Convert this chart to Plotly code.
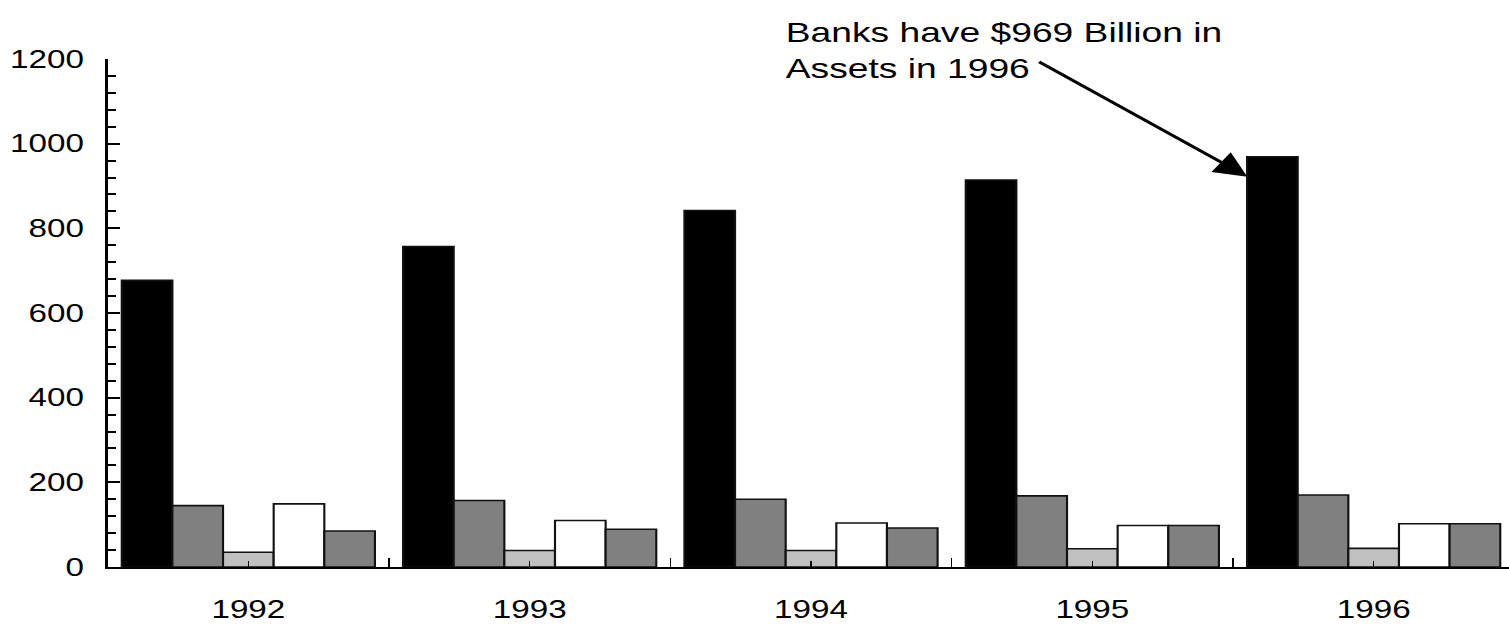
import plotly.graph_objects as go

# Total assets by year, $ billions
years = [1992, 1993, 1994, 1995, 1996]
banks = [677, 757, 842, 914, 969]
series_b = [145, 157, 160, 168, 170]
series_c = [35, 39, 39, 43, 44]
series_d = [149, 110, 104, 98, 102]
series_e = [85, 89, 92, 98, 102]

series_names = ["Banks", "Group B", "Group C", "Group D", "Group E"]
series_values = [banks, series_b, series_c, series_d, series_e]
series_colors = ["#000000", "#808080", "#c0c0c0", "#ffffff", "#808080"]

y_tick_values = [0, 200, 400, 600, 800, 1000, 1200]

note_text = "Banks have $969 Billion in<br>Assets in 1996"
note_year = 1996
note_value = 969

# The page is laid out narrower and stretched horizontally afterwards.
STRETCH = 1.3295
W, H = 1135, 625
FONT = "Liberation Sans, Arial, Helvetica, sans-serif"

fig = go.Figure()
for name, vals, col in zip(series_names, series_values, series_colors):
    fig.add_trace(go.Bar(
        x=years, y=vals, name=name,
        marker=dict(color=col, line=dict(color="#111111", width=1.6)),
    ))

boundaries = [y + 0.5 for y in years[:-1]]

fig.update_layout(
    width=W, height=H,
    margin=dict(l=81, r=0, t=59, b=58, autoexpand=False),
    paper_bgcolor="white", plot_bgcolor="white",
    barmode="group", bargap=0.1, bargroupgap=0,
    showlegend=False,
    font=dict(family=FONT, size=25, color="#000000"),
    xaxis=dict(
        range=[years[0] - 0.5, years[0] - 0.5 + 4.981],
        tickvals=years, ticktext=[str(y) for y in years],
        ticks="inside", ticklen=6, tickwidth=1.3, tickcolor="#000000",
        minor=dict(tickvals=boundaries, ticks="inside", ticklen=9,
                   tickwidth=1.3, tickcolor="#000000"),
        showline=True, linecolor="#000000", linewidth=1.6,
        showgrid=False, zeroline=False,
        ticklabelstandoff=19,
        tickfont=dict(family=FONT, size=25),
    ),
    yaxis=dict(
        range=[0, 1200],
        tickvals=y_tick_values,
        ticks="inside", ticklen=9, tickwidth=1.8, tickcolor="#000000",
        minor=dict(dtick=40, ticks="inside", ticklen=6.5,
                   tickwidth=1.6, tickcolor="#000000"),
        showline=True, linecolor="#000000", linewidth=1.8,
        showgrid=False, zeroline=False,
        ticklabelstandoff=11,
        tickfont=dict(family=FONT, size=25),
    ),
)

# Callout text
fig.add_annotation(
    x=1993.9, y=1.087, xref="x", yref="paper",
    xanchor="left", yanchor="top", align="left",
    text=note_text, showarrow=False,
    font=dict(family=FONT, size=28, color="#000000"),
)
# Callout arrow pointing at the 1996 bank bar
fig.add_annotation(
    x=note_year - 0.449, y=note_value - 47, xref="x", yref="y",
    ax=1994.804, ay=1196, axref="x", ayref="y",
    text="", showarrow=True, arrowhead=2, arrowsize=1.75,
    arrowwidth=2.8, arrowcolor="#000000", standoff=0,
)

post = """
var gd = document.getElementById('{plot_id}');
document.documentElement.style.margin = '0';
document.body.style.margin = '0';
document.documentElement.style.overflow = 'hidden';
document.body.style.overflow = 'hidden';
gd.style.transformOrigin = '0 0';
gd.style.transform = 'scaleX(%.4f)';
""" % STRETCH

fig.write_html("out.html", post_script=post, config={"displayModeBar": False})
